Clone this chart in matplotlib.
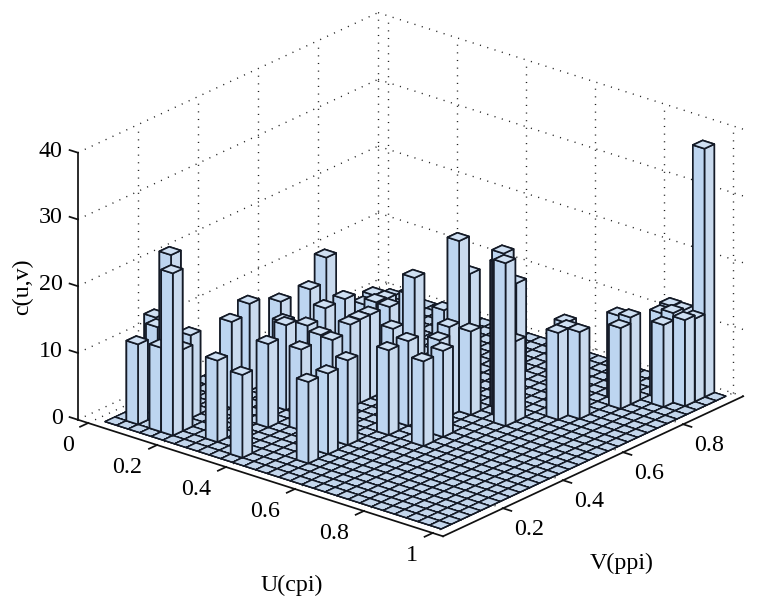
#!/usr/bin/env python3
"""Histograma 3D de c(u,v) sobre U(cpi) y V(ppi)."""

import numpy as np
import matplotlib
matplotlib.use('Agg')
import matplotlib.pyplot as plt
from mpl_toolkits.mplot3d import proj3d

plt.rcParams['font.family'] = ['Liberation Serif', 'DejaVu Serif']

# ----------------------------------------------------------------------------
# Datos: indice de celda en U, en V, y altura
# ----------------------------------------------------------------------------
bar_u_bin = [1, 4, 3, 4, 3, 1, 0, 3, 7, 10, 4, 3, 8, 10, 14, 14, 14, 15, 18, 18,
             17, 16, 16, 11, 13, 16, 13, 11, 15, 12, 10, 10, 10, 10, 7, 8, 8, 7, 7,
             4, 6, 7, 4, 2, 8, 10, 11, 7, 20, 19, 18, 20, 15, 22, 23, 21, 22,
             24, 23, 24, 27, 26, 27, 27, 25, 26, 25, 26]
bar_v_bin = [1, 1, 1, 2, 4, 3, 4, 2, 2, 1, 7, 10, 6, 7, 3, 5, 7, 10, 10, 12,
             16, 16, 15, 23, 18, 14, 15, 17, 12, 14, 16, 14, 13, 12, 15, 18, 17, 17, 18,
             12, 10, 9, 15, 19, 10, 9, 9, 13, 16, 17, 18, 17, 23, 19, 20, 21, 20,
             23, 24, 24, 28, 25, 26, 27, 26, 26, 27, 27]
bar_height = [12, 24.3, 12.6, 12.2, 12.4, 13.2, 13.4, 25.8, 12.2, 12.4, 12.9, 13, 12.5,
              12.1, 12.2, 12.1, 12.7, 12.7, 12.7, 12.9,
              12.5, 25.5, 13.3, 13, 12.1, 12, 19, 14, 12.7, 11.5, 12.3, 12.5, 12.5, 12.4,
              12.5, 11, 11.2, 10.3, 11,
              12.5, 11.9, 12.7, 12.3, 13.2, 12.5, 12.9, 12.7, 12.5, 24.4, 24.6, 21.8, 12,
              13.8, 13, 13, 12.6, 13,
              12.1, 12.7, 13, 37.2, 12.3, 12.9, 12.4, 12.8, 13.4, 13.2, 13.1]

u_ticks = [0, 0.2, 0.4, 0.6, 0.8, 1]
u_labels = ['0', '0.2', '0.4', '0.6', '0.8', '1']
v_ticks = [0.2, 0.4, 0.6, 0.8]
v_labels = ['0.2', '0.4', '0.6', '0.8']
z_ticks = [0, 10, 20, 30, 40]
z_labels = ['0', '10', '20', '30', '40']

# ----------------------------------------------------------------------------
# Limites y malla
# ----------------------------------------------------------------------------
U_MIN, U_MAX = -0.03, 1.03
V_MIN, V_MAX = 0.0, 1.0
Z_MIN, Z_MAX = 0, 40

N_U, N_V = 29, 29
U0, DU = 0.0239, 0.03365
V0, DV = 0.0286, 0.0327

EDGE = '#141a26'
TOP = '#cfe0f3'
LEFT = '#bdd5f0'
RIGHT = '#c9daee'
FONT = 17.3


def celda_u(i):
    return U0 + DU * i


def celda_v(j):
    return V0 + DV * j


def etiqueta(ax, x, y, z, txt, ha):
    """Pone un texto 2D en el punto proyectado de (x, y, z)."""
    xp, yp, _ = proj3d.proj_transform(x, y, z, ax.get_proj())
    ax.text2D(xp, yp, txt, transform=ax.transData, ha=ha, va='center',
              fontsize=FONT, zorder=600)


fig = plt.figure(figsize=(7.58, 5.98), dpi=100)
ax = fig.add_axes([25.4 / 758, -61.6 / 598, 750 / 758, 750 / 598], projection='3d')
ax.set_proj_type('ortho')
ax.view_init(elev=22.7, azim=-50.4)
ax.computed_zorder = False
ax.set_box_aspect((474, 471, 289.5), zoom=0.9425)
ax.set_xticks([])
ax.set_yticks([])
ax.set_zticks([])
ax.set_axis_off()

# Rejilla punteada en las paredes y el suelo
grid_kw = dict(color='#222222', lw=1.0, linestyle=(0, (0.8, 4.7)), zorder=0)
for v in [0.2, 0.4, 0.6, 0.8, 1.0]:
    ax.plot([U_MIN, U_MIN], [v, v], [Z_MIN, Z_MAX], **grid_kw)
for u in u_ticks:
    ax.plot([u, u], [V_MAX, V_MAX], [Z_MIN, Z_MAX], **grid_kw)
    ax.plot([u, u], [V_MIN, V_MAX], [Z_MIN, Z_MIN], **grid_kw)
for v in v_ticks:
    ax.plot([U_MIN, U_MAX], [v, v], [Z_MIN, Z_MIN], **grid_kw)
for z in z_ticks:
    ax.plot([U_MIN, U_MIN], [V_MIN, V_MAX], [z, z], **grid_kw)
    ax.plot([U_MIN, U_MAX], [V_MAX, V_MAX], [z, z], **grid_kw)

# Suelo: todas las celdas con altura cero
ii, jj = np.meshgrid(np.arange(N_U), np.arange(N_V), indexing='ij')
ax.bar3d(celda_u(ii.ravel()), celda_v(jj.ravel()), np.zeros(ii.size), DU, DV,
         np.zeros(ii.size), color='#c3d6ec', edgecolor=EDGE, linewidth=1.0,
         shade=False, zorder=1)

# Barras de atras hacia adelante
orden = sorted(range(len(bar_height)), key=lambda k: (bar_u_bin[k], -bar_v_bin[k]))
for n, k in enumerate(orden):
    ax.bar3d(celda_u(bar_u_bin[k]), celda_v(bar_v_bin[k]), 0, DU, DV, bar_height[k],
             color=[TOP, TOP, LEFT, LEFT, RIGHT, RIGHT], edgecolor=EDGE, linewidth=1.2,
             shade=False, zorder=2 + n)

# Ejes solidos
axis_kw = dict(color='#111111', lw=1.25, zorder=500)
ax.plot([U_MIN, U_MIN], [V_MIN, V_MIN], [Z_MIN, Z_MAX], **axis_kw)
ax.plot([U_MIN, U_MAX], [V_MIN, V_MIN], [Z_MIN, Z_MIN], **axis_kw)
ax.plot([U_MAX, U_MAX], [V_MIN, V_MAX], [Z_MIN, Z_MIN], **axis_kw)

ax.set_xlim(U_MIN, U_MAX, view_margin=0)
ax.set_ylim(V_MIN, V_MAX, view_margin=0)
ax.set_zlim(Z_MIN, Z_MAX, view_margin=0)

# Marcas y etiquetas
for u, txt in zip(u_ticks, u_labels):
    ax.plot([u, u], [V_MIN, V_MIN - 0.027], [0, 0], **axis_kw)
    etiqueta(ax, u, -0.0483, -2.43, txt, 'right')
for v, txt in zip(v_ticks, v_labels):
    ax.plot([U_MAX, U_MAX + 0.024], [v, v], [0, 0], **axis_kw)
    etiqueta(ax, U_MAX + 0.0756, v, -1.99, txt, 'center')
for z, txt in zip(z_ticks, z_labels):
    ax.plot([U_MIN, U_MIN - 0.024], [V_MIN, V_MIN], [z, z], **axis_kw)
    etiqueta(ax, U_MIN - 0.0436, V_MIN, z - 0.5, txt, 'right')

ax.set_xlim(U_MIN, U_MAX, view_margin=0)
ax.set_ylim(V_MIN, V_MAX, view_margin=0)
ax.set_zlim(Z_MIN, Z_MAX, view_margin=0)

fig.text(292 / 758, 1 - 585 / 598, 'U(cpi)', ha='center', va='center', fontsize=FONT)
fig.text(622 / 758, 1 - 563 / 598, 'V(ppi)', ha='center', va='center', fontsize=FONT)
fig.text(23 / 758, 1 - 287 / 598, 'c(u,v)', ha='center', va='center', rotation=90, fontsize=FONT)

fig.savefig('out.png', dpi=100)
